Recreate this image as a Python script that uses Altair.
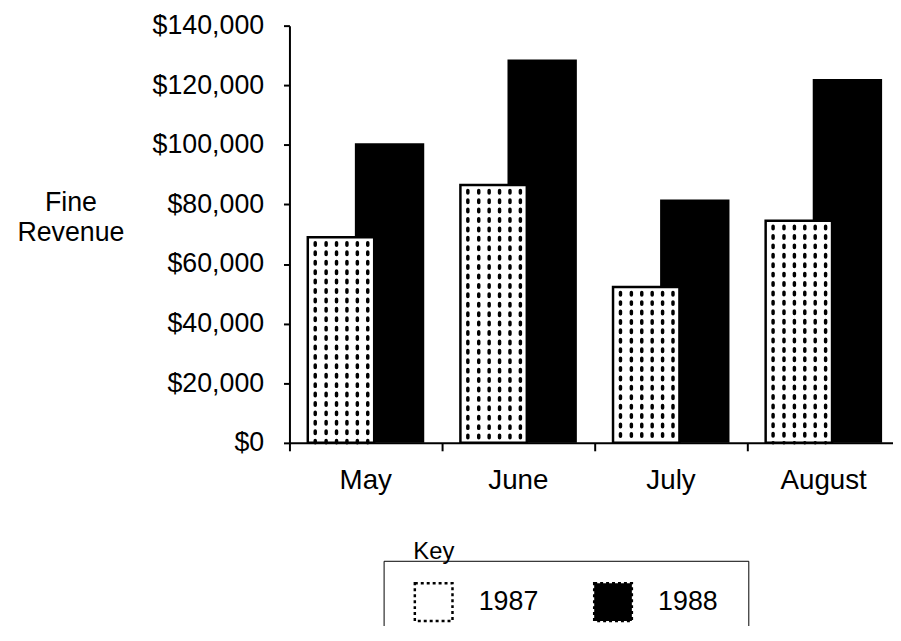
import altair as alt
import pandas as pd

months = ["May", "June", "July", "August"]
years = ["1987", "1988"]
rev_1987 = [69000, 86500, 52300, 74500]
rev_1988 = [100500, 128600, 81700, 122100]
y_ticks = [0, 20000, 40000, 60000, 80000, 100000, 120000, 140000]

df = pd.DataFrame({
    "month": months * 2,
    "year": ["1987"] * len(months) + ["1988"] * len(months),
    "revenue": rev_1987 + rev_1988,
})

FONT = "Liberation Sans"

x_enc = alt.X(
    "month:N",
    sort=months,
    scale=alt.Scale(domain=months, range=[0, 616], paddingInner=0, paddingOuter=0),
    axis=alt.Axis(
        title=None, bandPosition=0, labelAngle=0,
        domainColor="black", domainWidth=2,
        tickColor="black", tickWidth=2, tickSize=8,
        labelFont=FONT, labelFontSize=28, labelColor="black", labelPadding=16,
    ),
)

y_enc = alt.Y(
    "revenue:Q",
    scale=alt.Scale(domain=[0, 140000], nice=False),
    axis=alt.Axis(
        values=y_ticks, format="$,.0f", grid=False,
        title=["Fine", "Revenue"], titleAngle=0, titleX=-221, titleY=187,
        titleAlign="center", titleBaseline="alphabetic",
        titleFont=FONT, titleFontSize=27, titleFontWeight="normal",
        titleLineHeight=30, titleColor="black",
        domainColor="black", domainWidth=2,
        tickColor="black", tickWidth=2, tickSize=6,
        labelFont=FONT, labelFontSize=27, labelColor="black", labelPadding=20,
    ),
)

color_enc = alt.Color(
    "year:N",
    scale=alt.Scale(domain=years, range=["white", "black"]),
    legend=alt.Legend(
        title="Key", orient="none", legendX=95, legendY=540,
        direction="horizontal", columns=2,
        symbolType="square", symbolSize=1444,
        symbolStrokeColor="black", symbolStrokeWidth=2.5, symbolDash=[3, 3],
        symbolOpacity=1,
        labelFont=FONT, labelFontSize=27, labelColor="black", labelOffset=25,
        labelLimit=300, columnPadding=50,
        padding=30, strokeColor="black",
        titleFont=FONT, titleFontSize=24, titleFontWeight="normal",
        titleBaseline="line-bottom", titleLineHeight=78, titlePadding=-33,
        titleColor="black",
    ),
)

base = alt.Chart(df)

bars88 = base.transform_filter("datum.year == '1988'").mark_bar(
    xOffset=24, width=70
).encode(x=x_enc, y=y_enc, color=color_enc)

bars87 = base.transform_filter("datum.year == '1987'").mark_bar(
    xOffset=-25, width=67, stroke="black", strokeWidth=2.5
).encode(x=x_enc, y=y_enc, color=color_enc)

dot_offsets = [-51, -40, -29.5, -19, -8.5, 2]
dots = [
    base.transform_filter("datum.year == '1987'").mark_rule(
        xOffset=dx, color="black", strokeWidth=3.5, strokeDash=[2.5, 7],
        strokeCap="round", strokeDashOffset=4,
    ).encode(x=x_enc, y=y_enc, y2=alt.datum(0))
    for dx in dot_offsets
]

chart = alt.layer(bars88, bars87, *dots).properties(
    width=609, height=421,
    autosize=alt.AutoSizeParams(type="none"),
    padding={"left": 284, "top": 15, "right": 0, "bottom": 182},
    background="white",
).configure_view(stroke=None)

chart.save("out.html", embed_options={"renderer": "svg", "actions": False})
